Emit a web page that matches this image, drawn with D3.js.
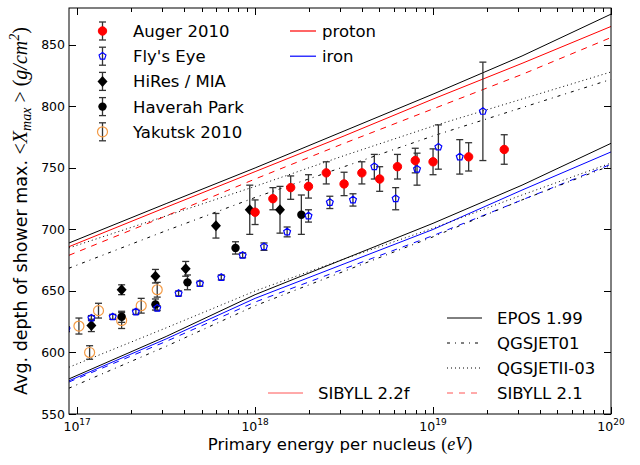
<!DOCTYPE html>
<html>
<head>
<meta charset="utf-8">
<script src="https://cdn.jsdelivr.net/npm/d3@7"></script>
<style>
  html, body { margin: 0; padding: 0; background: #fff; }
  svg { display: block; font-family: "DejaVu Sans", sans-serif; }
</style>
</head>
<body>
<svg id="chart" width="640" height="465"></svg>
<script>
// ---------------- DATA (log10 energy in eV, Xmax in g/cm^2) ----------------
const modelLogE = [16.954, 17.5, 18, 18.5, 19, 19.5, 20];

const eposProton    = [689, 721, 750, 780, 810, 841, 875];
const sib22fProton  = [686, 718, 747, 776, 806, 835, 865];
const sib21Proton   = [679, 711, 741, 770, 798, 826, 856];
const qgs2Proton    = [685, 711, 735, 760, 784, 806, 828];
const qgs01Proton   = [668.5, 699, 726, 751, 776, 799, 822];

const eposIron      = [578.5, 613, 647, 676, 705, 736, 770];
const sib22fIron    = [577, 611, 644, 672, 700, 732, 763];
const sib21Iron     = [576, 609, 641, 668, 695, 724, 753];
const qgs2Iron      = [588, 620, 650, 676, 701, 728, 754];
const qgs01Iron     = [571, 605, 638, 666, 694, 724, 752];

const augerLogE = [18.0, 18.1, 18.2, 18.3, 18.4, 18.5, 18.6, 18.7, 18.8, 18.9, 19.0, 19.2, 19.4];
const augerX    = [714, 725, 734, 735, 746, 737, 746, 741, 751, 756, 755, 759, 765];
const augerErr  = [10, 9, 9.5, 9.5, 9, 9.5, 9, 10, 10, 10, 10.5, 11.5, 12];

const flysLogE = [16.94, 17.08, 17.2, 17.33, 17.45, 17.57, 17.69, 17.81, 17.93, 18.05, 18.18, 18.3, 18.42, 18.55, 18.67, 18.79, 18.91, 19.03, 19.15, 19.28];
const flysX    = [619, 628, 629, 633, 636, 648, 656, 661, 679, 686, 698, 711, 722, 724, 751, 725, 749, 767, 759, 796];
const flysErr  = [2, 2, 2, 2, 2, 2, 2, 2, 2, 3, 4, 5, 5, 5, 10, 9, 13, 18, 14, 40];

const hiresLogE = [17.08, 17.25, 17.44, 17.61, 17.78, 17.97, 18.14];
const hiresX    = [622, 651, 662, 668, 703, 716, 716];
const hiresErr  = [5, 4, 5.5, 6, 10, 20, 19];

const haverahLogE = [17.25, 17.44, 17.62, 17.89, 18.26];
const haverahX    = [629, 639, 657, 685, 712];
const haverahErr  = [4.5, 4.5, 6, 5, 16];

const yakutskLogE = [17.01, 17.07, 17.12, 17.25, 17.36, 17.45];
const yakutskX    = [621.5, 600, 634, 626, 638, 651];
const yakutskErr  = [6.5, 5.5, 6, 6.5, 6, 6];

const yTicks = [550, 600, 650, 700, 750, 800, 850];
const xMajorTicks = [1e17, 1e18, 1e19, 1e20];
const xTickExps = ["17", "18", "19", "20"];

// ---------------- SETUP ----------------
const svg = d3.select("#chart");
const L = 69, R = 611, T = 8, B = 414;
const x = d3.scaleLog().domain([9e16, 1e20]).range([L, R]);
const y = d3.scaleLinear().domain([550, 880]).range([B, T]);

const RED = "#ff0000", BLUE = "#0000ff", ORANGE = "#f39a45";
const dashes = { solid: null, dashed: "6,6", dashdot: "3,5,1,5", dotted: "1,3" };

svg.append("defs").append("clipPath").attr("id", "plotclip")
  .append("rect").attr("x", L).attr("y", T).attr("width", R - L).attr("height", B - T);

const plot = svg.append("g").attr("clip-path", "url(#plotclip)");

// ---------------- MODEL LINES ----------------
const models = [
  { v: eposProton, c: "#000", d: "solid" },
  { v: sib22fProton, c: RED, d: "solid" },
  { v: sib21Proton, c: RED, d: "dashed" },
  { v: qgs2Proton, c: "#000", d: "dotted" },
  { v: qgs01Proton, c: "#000", d: "dashdot" },
  { v: eposIron, c: "#000", d: "solid" },
  { v: sib22fIron, c: BLUE, d: "solid" },
  { v: sib21Iron, c: BLUE, d: "dashed" },
  { v: qgs2Iron, c: "#000", d: "dotted" },
  { v: qgs01Iron, c: "#000", d: "dashdot" }
];
const line = d3.line().x(d => x(Math.pow(10, d[0]))).y(d => y(d[1]));
models.forEach(m => {
  plot.append("path")
    .attr("d", line(modelLogE.map((e, i) => [e, m.v[i]])))
    .attr("fill", "none").attr("stroke", m.c).attr("stroke-width", 1)
    .attr("stroke-dasharray", dashes[m.d]);
});

// ---------------- DATA POINTS ----------------
function pentagonPath(r) {
  const pts = d3.range(5).map(i => {
    const a = -Math.PI / 2 + i * 2 * Math.PI / 5;
    return [r * Math.cos(a), r * Math.sin(a)];
  });
  return "M" + pts.map(p => p.join(",")).join("L") + "Z";
}
const markers = {
  auger:   g => g.append("circle").attr("r", 4.2).attr("fill", RED).attr("stroke", RED),
  flys:    g => g.append("path").attr("d", pentagonPath(3.6)).attr("fill", "none").attr("stroke", BLUE).attr("stroke-width", 1.2),
  hires:   g => g.append("path").attr("d", "M0,-5.5L5,0L0,5.5L-5,0Z").attr("fill", "#000"),
  haverah: g => g.append("circle").attr("r", 4.2).attr("fill", "#000"),
  yakutsk: g => g.append("circle").attr("r", 5).attr("fill", "none").attr("stroke", ORANGE).attr("stroke-width", 1.2)
};
const ERRC = "#333";
function errBar(g, cx, y1, y2) {
  g.append("line").attr("x1", cx).attr("x2", cx).attr("y1", y1).attr("y2", y2)
    .attr("stroke", ERRC).attr("stroke-width", 1.3);
  [y1, y2].forEach(yy => g.append("line").attr("x1", cx - 3.5).attr("x2", cx + 3.5)
    .attr("y1", yy).attr("y2", yy).attr("stroke", ERRC).attr("stroke-width", 1.3));
}
const sets = [
  { name: "Yakutsk 2010", e: yakutskLogE, v: yakutskX, err: yakutskErr, m: "yakutsk" },
  { name: "Haverah Park", e: haverahLogE, v: haverahX, err: haverahErr, m: "haverah" },
  { name: "HiRes / MIA", e: hiresLogE, v: hiresX, err: hiresErr, m: "hires" },
  { name: "Fly's Eye", e: flysLogE, v: flysX, err: flysErr, m: "flys" },
  { name: "Auger 2010", e: augerLogE, v: augerX, err: augerErr, m: "auger" }
];
const pts = svg.append("g").attr("clip-path", "url(#plotclip)");
sets.forEach(s => {
  s.e.forEach((e, i) => {
    const cx = x(Math.pow(10, e));
    errBar(pts, cx, y(s.v[i] + s.err[i]), y(s.v[i] - s.err[i]));
  });
});
sets.forEach(s => {
  s.e.forEach((e, i) => {
    const g = pts.append("g").attr("transform", `translate(${x(Math.pow(10, e))},${y(s.v[i])})`);
    markers[s.m](g);
  });
});

// ---------------- AXES ----------------
const axes = svg.append("g");
axes.append("rect").attr("x", L).attr("y", T).attr("width", R - L).attr("height", B - T)
  .attr("fill", "none").attr("stroke", "#000").attr("stroke-width", 1);

const minorX = [];
[16, 17, 18, 19].forEach(p => { for (let k = 2; k <= 9; k++) { const v = k * Math.pow(10, p); if (v > 9e16 && v < 1e20) minorX.push(v); } });
minorX.forEach(v => {
  const px = Math.round(x(v)) + 0.5;
  axes.append("line").attr("x1", px).attr("x2", px).attr("y1", B).attr("y2", B - 4).attr("stroke", "#000");
  axes.append("line").attr("x1", px).attr("x2", px).attr("y1", T).attr("y2", T + 4).attr("stroke", "#000");
});
xMajorTicks.forEach((v, i) => {
  const px = Math.round(x(v)) + 0.5;
  axes.append("line").attr("x1", px).attr("x2", px).attr("y1", B).attr("y2", B - 7).attr("stroke", "#000");
  axes.append("line").attr("x1", px).attr("x2", px).attr("y1", T).attr("y2", T + 7).attr("stroke", "#000");
  const t = axes.append("text").attr("x", x(v)).attr("y", B + 17).attr("text-anchor", "middle")
    .attr("font-size", 12.5);
  t.append("tspan").text("10");
  t.append("tspan").attr("dy", -6).attr("font-size", 9).text(xTickExps[i]);
});
yTicks.forEach(v => {
  const py = Math.round(y(v)) + 0.5;
  axes.append("line").attr("x1", L).attr("x2", L + 7).attr("y1", py).attr("y2", py).attr("stroke", "#000");
  axes.append("line").attr("x1", R).attr("x2", R - 7).attr("y1", py).attr("y2", py).attr("stroke", "#000");
  axes.append("text").attr("x", L - 4).attr("y", y(v) + 4.5).attr("text-anchor", "end")
    .attr("font-size", 12.5).text(v);
});

// x label
const serif = "Liberation Serif, serif";
const xl = svg.append("text").attr("x", 340).attr("y", 450).attr("text-anchor", "middle").attr("font-size", 16.5);
xl.append("tspan").text("Primary energy per nucleus ");
xl.append("tspan").attr("font-family", serif).attr("font-size", 18).text("(");
xl.append("tspan").attr("font-family", serif).attr("font-style", "italic").attr("font-size", 18).text("eV");
xl.append("tspan").attr("font-family", serif).attr("font-size", 18).text(")");

// y label
const yl = svg.append("text").attr("transform", "translate(27,211) rotate(-90)")
  .attr("text-anchor", "middle").attr("font-size", 17.5);
yl.append("tspan").text("Avg. depth of shower max. ");
yl.append("tspan").attr("font-family", serif).attr("font-size", 20).text("<");
yl.append("tspan").attr("font-family", serif).attr("font-style", "italic").attr("font-size", 20).text("X");
yl.append("tspan").attr("font-family", serif).attr("font-style", "italic").attr("font-size", 14).attr("dy", 4).text("max");
yl.append("tspan").attr("font-family", serif).attr("font-size", 20).attr("dy", -4).text(" > (");
yl.append("tspan").attr("font-family", serif).attr("font-style", "italic").attr("font-size", 20).text("g/cm");
yl.append("tspan").attr("font-family", serif).attr("font-style", "italic").attr("font-size", 14).attr("dy", -8).text("2");
yl.append("tspan").attr("font-family", serif).attr("font-size", 20).attr("dy", 8).text(")");

// ---------------- LEGENDS ----------------
const lg1 = svg.append("g");
const legendOrder = ["auger", "flys", "hires", "haverah", "yakutsk"];
const legendNames = ["Auger 2010", "Fly's Eye", "HiRes / MIA", "Haverah Park", "Yakutsk 2010"];
legendOrder.forEach((m, i) => {
  const cy = 31 + i * 25.2;
  errBar(lg1, 102.5, cy - 9, cy + 9);
  const g = lg1.append("g").attr("transform", `translate(102.5,${cy})`);
  markers[m](g);
  lg1.append("text").attr("x", 133).attr("y", cy + 6).attr("font-size", 16.5).text(legendNames[i]);
});

const lg2 = svg.append("g");
[["proton", RED], ["iron", BLUE]].forEach((d, i) => {
  const cy = 31 + i * 25.2;
  lg2.append("line").attr("x1", 290).attr("x2", 316).attr("y1", cy).attr("y2", cy).attr("stroke", d[1]).attr("stroke-width", 1.2);
  lg2.append("text").attr("x", 322).attr("y", cy + 6).attr("font-size", 16.5).text(d[0]);
});

const lg3 = svg.append("g");
const LRED = "#ff5555";
const lg3Items = [
  { t: "EPOS 1.99", c: "#000", d: "solid", x0: 447, yy: 318 },
  { t: "QGSJET01", c: "#000", d: "dashdot", x0: 447, yy: 343 },
  { t: "QGSJETII-03", c: "#000", d: "dotted", x0: 447, yy: 368 },
  { t: "SIBYLL 2.1", c: LRED, d: "dashed", x0: 447, yy: 393 },
  { t: "SIBYLL 2.2f", c: LRED, d: "solid", x0: 268, yy: 393 }
];
lg3Items.forEach(it => {
  lg3.append("line").attr("x1", it.x0).attr("x2", it.x0 + 35).attr("y1", it.yy).attr("y2", it.yy)
    .attr("stroke", it.c).attr("stroke-width", 1).attr("stroke-dasharray", dashes[it.d]);
  lg3.append("text").attr("x", it.x0 + 50).attr("y", it.yy + 6).attr("font-size", 16.5).text(it.t);
});
</script>
</body>
</html>
